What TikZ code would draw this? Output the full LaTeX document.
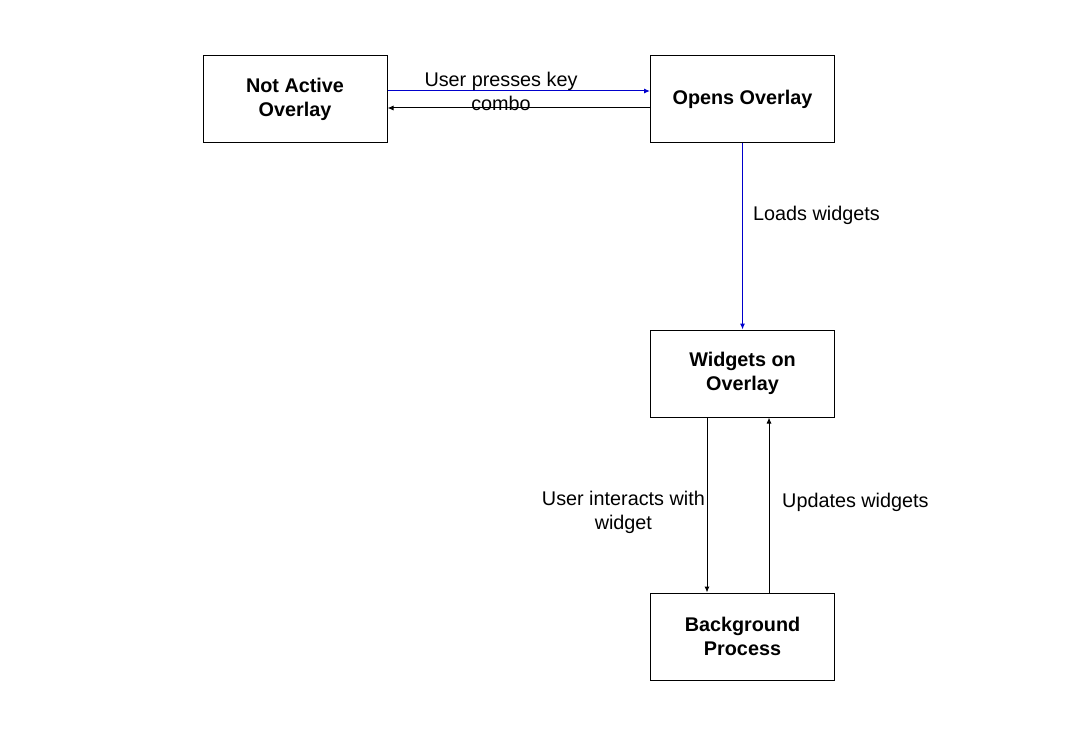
\documentclass[tikz,border=0pt]{standalone}
\usepackage{fontspec}
\setmainfont{Liberation Sans}
\usetikzlibrary{arrows.meta,positioning}

\tikzset{
  state/.style={draw, line width=1pt, minimum width=184pt, minimum height=87pt,
    inner sep=0pt, align=center, font=\fontsize{19.8}{24}\selectfont\bfseries},
  lbl/.style={align=center, inner sep=0pt, font=\fontsize{19.8}{24}\selectfont},
  flow/.style={line width=1pt, -{Latex[length=6pt,width=5pt]}}
}

\begin{document}
\begin{tikzpicture}[x=1pt, y=-1pt]
  \useasboundingbox (0,0) rectangle (1067,730);
  \node[state] (NA) at (295,99.5) {Not Active\\Overlay};
  \node[state] (OO) at (742.5,99.5) {Opens Overlay};
  \node[state] (WO) at (742.5,373.5) {Widgets on\\Overlay};
  \node[state] (BP) at (742.5,636.5) {Background\\Process};

  \draw[flow, blue!80!black] ([yshift=8.5pt]NA.east) -- ([yshift=8.5pt]OO.west);
  \draw[flow] ([yshift=-8.5pt]OO.west) -- ([yshift=-8.5pt]NA.east);
  \node[lbl] (LK) at (501,91.5) {User presses key\\combo};

  \draw[flow, blue!80!black] (OO.south) -- (WO.north);
  \node[lbl, anchor=west] (LW) at (753,215.5) {Loads widgets};

  \draw[flow] ([xshift=-35.5pt]WO.south) -- ([xshift=-35.5pt]BP.north);
  \node[lbl, anchor=east] (UI) at (705,512.5) {User interacts with\\widget};
  \draw[flow] ([xshift=26.5pt]BP.north) -- ([xshift=26.5pt]WO.south);
  \node[lbl, anchor=west] (UW) at (782,502.5) {Updates widgets};
\end{tikzpicture}
\end{document}
